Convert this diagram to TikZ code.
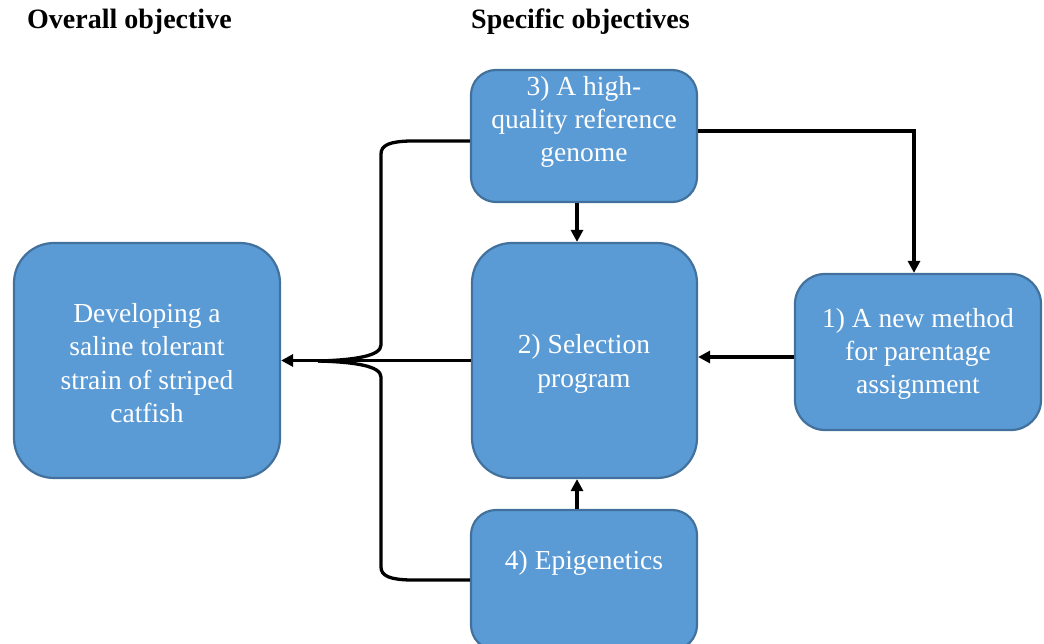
\documentclass[tikz,border=0pt]{standalone}
\usepackage{fontspec}
\setmainfont{Liberation Serif}
\usetikzlibrary{arrows.meta,calc}
\definecolor{boxfill}{HTML}{5B9BD5}
\definecolor{boxline}{HTML}{41719C}
\tikzset{
  box/.style={draw=boxline, line width=2.2pt, fill=boxfill, inner sep=0pt},
  txt/.style={text=white, align=center, font=\fontsize{27.5}{33.3}\selectfont, inner sep=0pt},
  ttl/.style={font=\bfseries\fontsize{28}{32}\selectfont, anchor=west, inner sep=0pt},
  conn/.style={line width=3.3pt, -{Triangle[length=12pt,width=12pt]}},
  plain/.style={line width=3.3pt}
}
\begin{document}
\begin{tikzpicture}[x=1pt,y=-1pt]
\useasboundingbox (0,0) rectangle (1044,644);
\node[ttl] (t1) at (27,22) {Overall objective};
\node[ttl] (t2) at (471,22) {Specific objectives};
\node[box, minimum width=266pt, minimum height=235pt, rounded corners=40pt] (L) at (147,360.5) {};
\node[box, minimum width=226pt, minimum height=132pt, rounded corners=25pt] (b3) at (584,136) {};
\node[box, minimum width=225pt, minimum height=235pt, rounded corners=40pt] (b2) at (584.5,360.5) {};
\node[box, minimum width=246pt, minimum height=156pt, rounded corners=30pt] (b1) at (918,352) {};
\node[box, minimum width=226pt, minimum height=140pt, rounded corners=25pt] (b4) at (584,580) {};
\node[txt] (tL) at (147,363) {Developing a\\saline tolerant\\strain of striped\\catfish};
\node[txt] (t3) at (584,122) {3) A high-\\quality reference\\genome};
\node[txt] (t2b) at (584,364) {2) Selection\\program};
\node[txt] (t1b) at (918,354) {1) A new method\\for parentage\\assignment};
\node[txt] (t4) at (584,563) {4) Epigenetics};
% connectors
\coordinate (c3) at (914,131);
\draw[conn] (b3.east |- c3) -- (c3) -- (c3 |- b1.north);
\draw[conn] (b3.south -| 577,0) -- (b2.north -| 577,0);
\draw[conn] (b1.west |- 0,357) -- (b2.east |- 0,357);
\draw[conn] (b4.north -| 577,0) -- (b2.south -| 577,0);
\draw[conn] (b2.west) -- (L.east);
% brace
\coordinate (bt) at (410,141);
\coordinate (bb) at (410,580);
\coordinate (tip) at (318,361);
\draw[plain] (b3.west |- bt) -- (bt) .. controls (390,141.5) and (381,145) .. (381,154) -- (381,345)
  .. controls (381,356) and (355,360) .. (tip);
\draw[plain] (b4.west |- bb) -- (bb) .. controls (390,579.5) and (381,576) .. (381,567) -- (381,377)
  .. controls (381,366) and (355,362) .. (tip);
\end{tikzpicture}
\end{document}
